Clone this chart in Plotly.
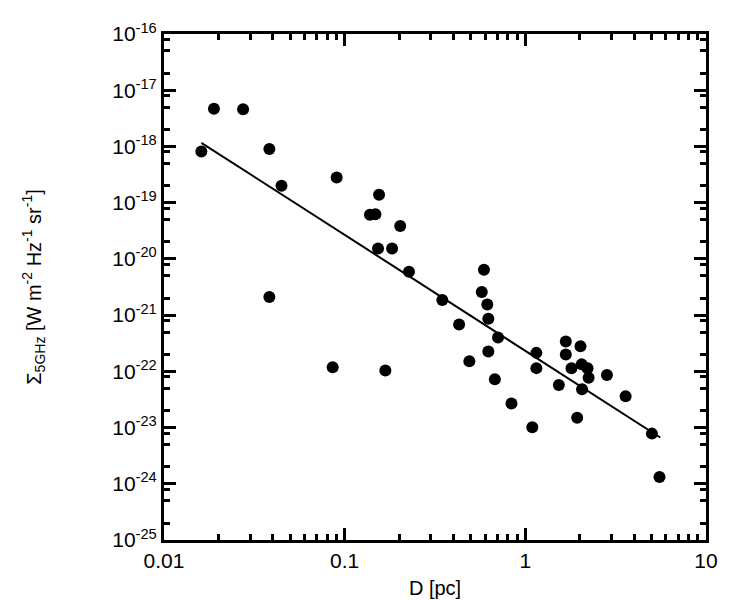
import plotly.graph_objects as go

# distance D [pc] and 5 GHz surface brightness [W m^-2 Hz^-1 sr^-1]
d_pc = [0.0161, 0.0189, 0.0274, 0.0383, 0.0447, 0.0383, 0.0903, 0.0858,
        0.138, 0.148, 0.155, 0.153, 0.168, 0.183, 0.203, 0.227,
        0.347, 0.430, 0.490, 0.574, 0.590, 0.616, 0.624, 0.624,
        0.678, 0.706, 0.838, 1.093, 1.151, 1.151, 1.533, 1.675,
        1.675, 1.801, 1.936, 2.02, 2.05, 2.06, 2.21, 2.24,
        2.83, 3.59, 5.02, 5.53]
sigma = [8.1e-19, 4.7e-18, 4.6e-18, 9.0e-19, 2.0e-19, 2.1e-21, 2.8e-19, 1.18e-22,
         6.1e-20, 6.2e-20, 1.38e-19, 1.53e-20, 1.03e-22, 1.53e-20, 3.85e-20, 5.9e-21,
         1.85e-21, 6.8e-22, 1.51e-22, 2.58e-21, 6.4e-21, 1.55e-21, 8.6e-22, 2.25e-22,
         7.2e-23, 4.0e-22, 2.67e-23, 1.01e-23, 2.13e-22, 1.14e-22, 5.7e-23, 3.4e-22,
         2.0e-22, 1.13e-22, 1.5e-23, 2.8e-22, 1.33e-22, 4.8e-23, 1.13e-22, 7.7e-23,
         8.6e-23, 3.6e-23, 7.8e-24, 1.32e-24]

# fitted power law, end points
fit_d = [0.0161, 5.58]
fit_sigma = [1.16e-18, 6.65e-24]

x_ticks = [0.01, 0.1, 1, 10]
x_labels = ["0.01", "0.1", "1", "10"]
y_exps = list(range(-25, -15))

tick_font = dict(family="Liberation Sans, Arial, sans-serif", size=21, color="black")
title_font = dict(family="Liberation Sans, Arial, sans-serif", size=20, color="black")

fig = go.Figure()
fig.add_trace(go.Scatter(x=fit_d, y=fit_sigma, mode="lines",
                         line=dict(color="black", width=2), showlegend=False))
fig.add_trace(go.Scatter(x=d_pc, y=sigma, mode="markers",
                         marker=dict(color="black", size=12), showlegend=False))

x_minor = [m * 10 ** e for e in range(-2, 1) for m in range(2, 10)]
y_minor = [m * 10.0 ** e for e in range(-25, -16) for m in (2, 5, 8)]

axis_common = dict(type="log", showgrid=False, zeroline=False, showline=True,
                   linecolor="black", linewidth=3, mirror="allticks",
                   ticks="inside", ticklen=12, tickwidth=3, tickcolor="black",
                   tickfont=tick_font)

fig.update_xaxes(range=[-2, 1], tickvals=x_ticks, ticktext=x_labels,
                 minor=dict(tickvals=x_minor, ticks="inside", ticklen=6,
                            tickwidth=3, tickcolor="black", showgrid=False),
                 title=dict(text="D [pc]", font=title_font, standoff=10),
                 **axis_common)
fig.update_yaxes(range=[-25, -16], tickvals=[10.0 ** e for e in y_exps],
                 ticktext=["10<sup>%d</sup>" % e for e in y_exps],
                 minor=dict(tickvals=y_minor, ticks="inside", ticklen=6,
                            tickwidth=3, tickcolor="black", showgrid=False),
                 title=dict(text="Σ<sub>5GHz</sub> [W m<sup>-2</sup> Hz<sup>-1</sup> sr<sup>-1</sup>]",
                            font=title_font, standoff=66),
                 **axis_common)

fig.update_layout(width=733, height=600, plot_bgcolor="white", paper_bgcolor="white",
                  margin=dict(l=156, r=35, t=25, b=63), font=title_font)

fig.write_html("out.html")
